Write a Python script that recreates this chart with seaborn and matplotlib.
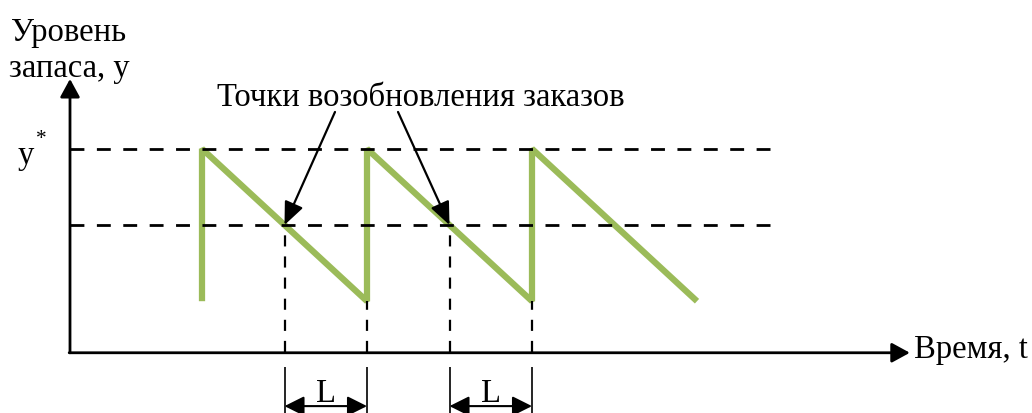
import matplotlib
matplotlib.use("Agg")
import matplotlib.pyplot as plt
import numpy as np
import pandas as pd
import seaborn as sns

# sawtooth inventory level
t_saw = [8, 8, 18, 18, 28, 28, 38]
y_saw = [2, 8, 2, 8, 2, 8, 2]
y_star = 8
y_reorder = 5
y_low = 2
reorder_t = [13, 23]
delivery_t = [18, 28]

y_label = ["Уровень", "запаса, y"]
x_label = "Время, t"
note = "Точки возобновления заказов"
lead_label = "L"

sns.set_theme(style="white")
plt.rcParams['font.family'] = ['Liberation Serif', 'DejaVu Serif']
plt.rcParams['text.color'] = 'black'

fig = plt.figure(figsize=(10.32, 4.14), dpi=100)
ax = fig.add_axes([0, 0, 1, 1])
ax.set_xlim(-70 / 16.5, 962 / 16.5)
ax.set_ylim(-61 / 25.4, 353 / 25.4)
ax.axis("off")

green = "#9BBB59"
fs = 23.5

df = pd.DataFrame({"t": t_saw, "y": y_saw})
sns.lineplot(data=df, x="t", y="y", sort=False, color=green, lw=4.5,
             solid_joinstyle="bevel", solid_capstyle="butt", ax=ax,
             estimator=None, zorder=2)

# horizontal dashed levels
ax.hlines([y_star, y_reorder], 0, 42.4, colors="black", lw=2,
          linestyles=(0, (5, 4.5)), zorder=3)

# vertical dashed lines to the time axis
for t in reorder_t:
    ax.vlines(t, 0, y_reorder, colors="black", lw=1.6, linestyles=(0, (5, 4.5)), zorder=3)
for t in delivery_t:
    ax.vlines(t, 0, y_low, colors="black", lw=1.6, linestyles=(0, (5, 4.5)), zorder=3)
for t in reorder_t + delivery_t:
    ax.vlines(t, -2.4, -0.59, colors="black", lw=1.2)

arrow = dict(arrowstyle="-|>,head_length=0.55,head_width=0.3", color="black",
             lw=2, shrinkA=0, shrinkB=0, mutation_scale=20)

# axes
ax.annotate("", xy=(0, 10.75), xytext=(0, -0.03), arrowprops=arrow)
ax.annotate("", xy=(50.9, -0.03), xytext=(-0.05, -0.03), arrowprops=arrow)

# lead time arrows
lead_arrow = dict(arrowstyle="<|-|>,head_length=0.6,head_width=0.3", color="black",
                  lw=1.5, shrinkA=0, shrinkB=0, mutation_scale=20)
for t0, t1 in zip(reorder_t, delivery_t):
    ax.annotate("", xy=(t1, -2.13), xytext=(t0, -2.13), arrowprops=lead_arrow)
    ax.text((t0 + t1) / 2, -1.62, lead_label, ha="center", va="center", fontsize=fs)

# reorder point callouts
note_arrow = dict(arrowstyle="-|>,head_length=0.7,head_width=0.3", color="black",
                  lw=1.6, shrinkA=0, shrinkB=0, mutation_scale=20)
ax.annotate("", xy=(reorder_t[0], y_reorder), xytext=(16.06, 9.45), arrowprops=note_arrow)
ax.annotate("", xy=(reorder_t[1], y_reorder), xytext=(19.88, 9.45), arrowprops=note_arrow)
ax.text(21.25, 10.05, note, ha="center", va="center", fontsize=fs)

# labels
ax.text(-3.55, 12.6, y_label[0], ha="left", va="center", fontsize=fs)
ax.text(-3.7, 11.2, y_label[1], ha="left", va="center", fontsize=fs)
ax.text(-3.2, 7.75, "y", ha="left", va="center", fontsize=fs)
ax.text(-2.05, 8.4, "*", ha="left", va="center", fontsize=fs * 0.65)
ax.text(51.15, 0.12, x_label, ha="left", va="center", fontsize=fs)

fig.savefig("out.png", dpi=100)
